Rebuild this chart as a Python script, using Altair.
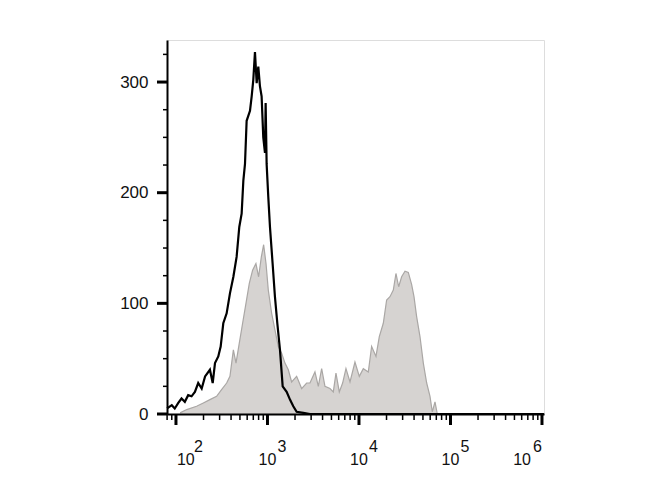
import altair as alt
import pandas as pd

# Unstained / control histogram (black outline)
ctrl_x = [80, 90, 97, 106, 115, 125, 136, 148, 161, 175, 191, 208, 235, 252, 267, 290, 308,
          329, 358, 389, 424, 460, 492, 522, 545, 568, 592, 644, 672, 700, 730, 762, 794, 828,
          863, 900, 939, 955, 979, 1021, 1065, 1138, 1207, 1281, 1370, 1466, 1620, 1762, 1915,
          2083, 2466, 2913, 1050000]
ctrl_y = [5, 8, 5, 10, 14, 11, 17, 16, 20, 28, 23, 34, 40, 28, 46, 52, 61,
          82, 91, 109, 124, 142, 169, 181, 211, 226, 265, 274, 287, 302, 327, 299, 314, 296,
          287, 250, 236, 281, 226, 196, 169, 136, 106, 82, 58, 25, 20, 13, 7,
          2, 1, 0, 0]

# Stained sample histogram (grey filled)
stain_x = [111, 131, 168, 199, 235, 278, 315, 358, 389, 424, 453, 492, 535, 582, 633, 688,
           748, 800, 857, 908, 964, 1021, 1111, 1207, 1313, 1429, 1553, 1690, 1837, 2083,
           2363, 2679, 2913, 3303, 3595, 3910, 4250, 4819, 5240, 5605, 6095, 6627, 7206,
           7977, 9039, 10082, 11152, 12642, 13748, 15339, 16680, 18442, 20057, 21815, 23720,
           25360, 27150, 29260, 31830, 34600, 37650, 39930, 42670, 46420, 50490, 54950,
           59720, 63240, 67730, 71780]
stain_y = [1, 4, 7, 10, 13, 16, 22, 28, 34, 58, 46, 64, 82, 100, 118, 130,
           136, 124, 142, 153, 136, 112, 91, 76, 61, 55, 46, 40, 29, 34,
           23, 28, 28, 38, 25, 41, 25, 23, 20, 37, 20, 28, 41,
           29, 47, 34, 41, 38, 61, 52, 70, 82, 103, 106, 112,
           127, 115, 124, 129, 128, 117, 106, 88, 70, 46, 28,
           16, 2, 11, 0]

x_decades = [100, 1000, 10000, 100000, 1000000]
x_exponents = ["2", "3", "4", "5", "6"]
x_minor = [m * 10 ** k for k in range(1, 6) for m in range(2, 10) if m * 10 ** k >= 80]
y_major = [0, 100, 200, 300]
y_minor = [25, 50, 75, 125, 150, 175, 225, 250, 275, 325]

ctrl = pd.DataFrame({"x": ctrl_x, "y": ctrl_y})
stain = pd.DataFrame({"x": stain_x, "y": stain_y})
lab_first = pd.DataFrame({"lx": x_decades[:1], "exp": x_exponents[:1], "base": ["10"]})
lab_mid = pd.DataFrame({"lx": x_decades[1:-1], "exp": x_exponents[1:-1], "base": ["10"] * 3})
lab_last = pd.DataFrame({"lx": x_decades[-1:], "exp": x_exponents[-1:], "base": ["10"]})
xmaj = pd.DataFrame({"xa": x_decades})
xmin = pd.DataFrame({"xb": x_minor})
ymaj = pd.DataFrame({"ya": y_major})
ymin = pd.DataFrame({"yb": y_minor})

PLOT_H = 374
x_scale = alt.Scale(type="log", domain=[79.8, 1052000], nice=False)
y_scale = alt.Scale(domain=[0, 338], nice=False, zero=True)

x_axis = alt.Axis(labels=False, ticks=False, title=None, grid=False,
                  domainColor="black", domainWidth=2, zindex=1)
y_axis = alt.Axis(values=y_major, title=None, grid=False, ticks=False,
                  labelFont="Liberation Sans", labelFontSize=17, labelColor="#111",
                  labelPadding=19, labelBaseline="middle",
                  domainColor="black", domainWidth=2, zindex=1)

area = alt.Chart(stain).mark_area(color="#d6d3d1").encode(
    x=alt.X("x:Q", scale=x_scale, axis=x_axis),
    y=alt.Y("y:Q", scale=y_scale, axis=y_axis),
)
grey_line = alt.Chart(stain).mark_line(color="#aaa7a5", strokeWidth=1.2).encode(
    x=alt.X("x:Q", scale=x_scale), y=alt.Y("y:Q", scale=y_scale)
)
black_line = alt.Chart(ctrl).mark_line(color="black", strokeWidth=2.2).encode(
    x=alt.X("x:Q", scale=x_scale), y=alt.Y("y:Q", scale=y_scale)
)

xt_major = alt.Chart(xmaj).mark_rule(color="#000", strokeWidth=3).encode(
    x=alt.X("xa:Q", scale=x_scale), y=alt.value(PLOT_H), y2=alt.value(PLOT_H + 11)
)
yt_major = alt.Chart(ymaj).mark_rule(color="#000", strokeWidth=3).encode(
    y=alt.Y("ya:Q", scale=y_scale), x=alt.value(0), x2=alt.value(-10)
)
xt_minor = alt.Chart(xmin).mark_rule(color="#000", strokeWidth=1.5).encode(
    x=alt.X("xb:Q", scale=x_scale), y=alt.value(PLOT_H), y2=alt.value(PLOT_H + 6)
)
yt_minor = alt.Chart(ymin).mark_rule(color="#000", strokeWidth=1.5).encode(
    y=alt.Y("yb:Q", scale=y_scale), x=alt.value(0), x2=alt.value(-4)
)

font = dict(font="Liberation Sans", fontSize=16, color="#111")
base_y = alt.value(PLOT_H + 51)
exp_y = alt.value(PLOT_H + 38)

def lbl(df, field, align, dx, yv):
    return alt.Chart(df).mark_text(
        align=align, baseline="alphabetic", dx=dx, **font
    ).encode(x=alt.X("lx:Q", scale=x_scale), y=yv, text=f"{field}:N")

text_layers = [
    lbl(lab_first, "base", "left", 1, base_y),
    lbl(lab_first, "exp", "left", 18, exp_y),
    lbl(lab_mid, "base", "center", 0, base_y),
    lbl(lab_mid, "exp", "left", 10, exp_y),
    lbl(lab_last, "base", "right", -11, base_y),
    lbl(lab_last, "exp", "right", 0, exp_y),
]

chart = alt.layer(
    area, grey_line, black_line, *text_layers, xt_major, yt_major, xt_minor, yt_minor
).properties(
    width=377, height=PLOT_H,
    autosize=alt.AutoSizeParams(type="none"),
    padding={"left": 159, "top": 32, "right": 110, "bottom": 70},
).configure_view(stroke="#666", strokeWidth=1.5).configure(background="white")

chart.save("out.html", embed_options={"renderer": "svg", "actions": False})
